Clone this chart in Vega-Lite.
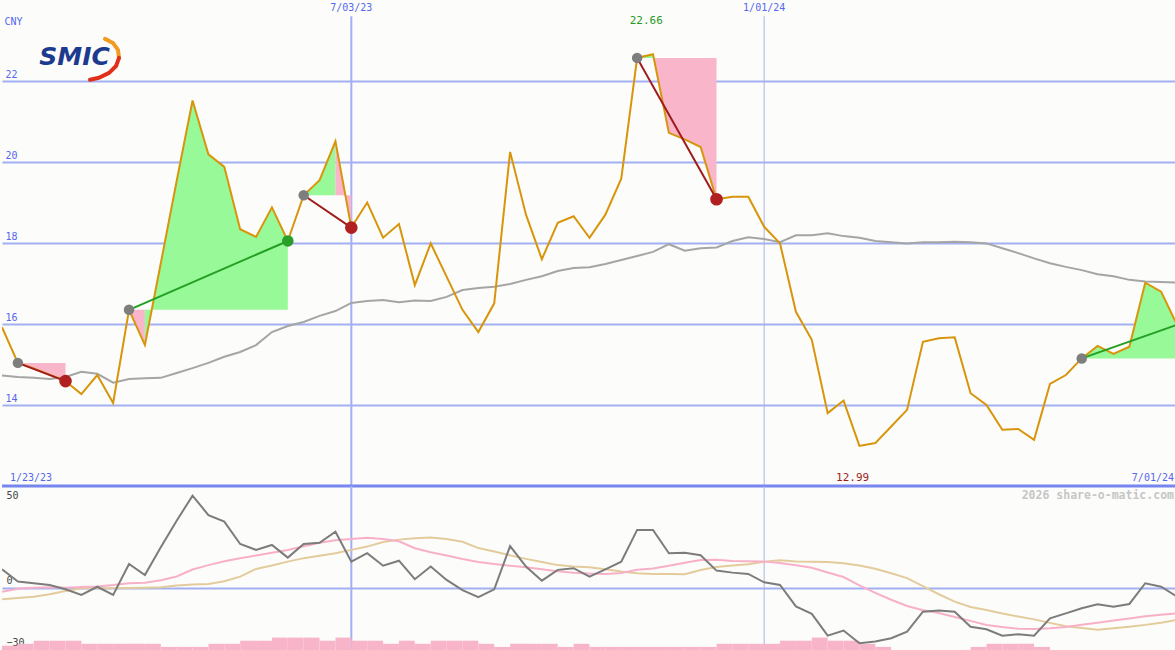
{
  "$schema": "https://vega.github.io/schema/vega-lite/v6.json",
  "background": "#fcfdfa",
  "padding": 0,
  "spacing": 0,
  "bounds": "flush",
  "config": {"view": {"stroke": null}, "font": "DejaVu Sans Mono"},
  "datasets": {
    "w": [
      {"date":"2023-01-30","price":15.92,"ma":14.73,"osc":10.0,"sig":-2.2,"sig2":-6.3},
      {"date":"2023-02-06","price":15.04,"ma":14.69,"osc":3.3,"sig":-0.6,"sig2":-5.6},
      {"date":"2023-02-13","price":14.90,"ma":14.67,"osc":2.4,"sig":-0.1,"sig2":-5.0},
      {"date":"2023-02-20","price":14.75,"ma":14.64,"osc":1.5,"sig":0.2,"sig2":-3.6},
      {"date":"2023-02-27","price":14.59,"ma":14.69,"osc":-0.9,"sig":0.0,"sig2":-1.8},
      {"date":"2023-03-06","price":14.27,"ma":14.82,"osc":-4.0,"sig":0.3,"sig2":-0.3},
      {"date":"2023-03-13","price":14.74,"ma":14.77,"osc":0.5,"sig":0.6,"sig2":-0.3},
      {"date":"2023-03-20","price":14.05,"ma":14.55,"osc":-4.0,"sig":1.4,"sig2":-0.3},
      {"date":"2023-03-27","price":16.35,"ma":14.64,"osc":12.9,"sig":2.4,"sig2":-0.2},
      {"date":"2023-04-03","price":15.48,"ma":14.66,"osc":6.9,"sig":2.7,"sig2":0.0},
      {"date":"2023-04-10","price":17.50,"ma":14.67,"osc":22.0,"sig":4.1,"sig2":0.2},
      {"date":"2023-04-17","price":19.53,"ma":14.79,"osc":36.5,"sig":6.1,"sig2":1.2},
      {"date":"2023-04-24","price":21.52,"ma":14.91,"osc":50.2,"sig":9.9,"sig2":1.7},
      {"date":"2023-05-01","price":20.19,"ma":15.04,"osc":39.6,"sig":12.3,"sig2":2.0},
      {"date":"2023-05-08","price":19.88,"ma":15.19,"osc":36.0,"sig":14.4,"sig2":3.5},
      {"date":"2023-05-15","price":18.34,"ma":15.31,"osc":23.8,"sig":16.0,"sig2":6.0},
      {"date":"2023-05-22","price":18.15,"ma":15.48,"osc":20.6,"sig":17.5,"sig2":10.2},
      {"date":"2023-05-29","price":18.88,"ma":15.80,"osc":23.3,"sig":19.0,"sig2":12.1},
      {"date":"2023-06-05","price":18.05,"ma":15.95,"osc":16.4,"sig":20.5,"sig2":14.2},
      {"date":"2023-06-12","price":19.18,"ma":16.05,"osc":23.8,"sig":22.6,"sig2":16.1},
      {"date":"2023-06-19","price":19.55,"ma":16.20,"osc":24.5,"sig":24.5,"sig2":17.4},
      {"date":"2023-06-26","price":20.51,"ma":16.32,"osc":30.5,"sig":25.8,"sig2":18.8},
      {"date":"2023-07-03","price":18.38,"ma":16.52,"osc":14.2,"sig":26.5,"sig2":20.6},
      {"date":"2023-07-10","price":19.00,"ma":16.57,"osc":18.8,"sig":27.2,"sig2":22.4},
      {"date":"2023-07-17","price":18.13,"ma":16.59,"osc":12.0,"sig":26.6,"sig2":24.9},
      {"date":"2023-07-24","price":18.47,"ma":16.54,"osc":14.7,"sig":25.3,"sig2":26.2},
      {"date":"2023-07-31","price":16.96,"ma":16.58,"osc":4.6,"sig":21.5,"sig2":26.9},
      {"date":"2023-08-07","price":17.99,"ma":16.57,"osc":11.5,"sig":19.3,"sig2":27.3},
      {"date":"2023-08-14","price":17.17,"ma":16.67,"osc":4.2,"sig":17.5,"sig2":26.5},
      {"date":"2023-08-21","price":16.35,"ma":16.84,"osc":-1.3,"sig":15.6,"sig2":25.0},
      {"date":"2023-08-28","price":15.80,"ma":16.89,"osc":-5.2,"sig":14.0,"sig2":21.6},
      {"date":"2023-09-04","price":16.51,"ma":16.92,"osc":-0.9,"sig":12.9,"sig2":19.7},
      {"date":"2023-09-11","price":20.25,"ma":16.99,"osc":22.7,"sig":12.0,"sig2":17.6},
      {"date":"2023-09-18","price":18.70,"ma":17.09,"osc":11.5,"sig":11.1,"sig2":15.7},
      {"date":"2023-09-25","price":17.60,"ma":17.18,"osc":3.8,"sig":10.1,"sig2":14.0},
      {"date":"2023-10-02","price":18.50,"ma":17.31,"osc":9.7,"sig":8.9,"sig2":12.3},
      {"date":"2023-10-09","price":18.66,"ma":17.38,"osc":10.6,"sig":8.2,"sig2":11.6},
      {"date":"2023-10-16","price":18.13,"ma":17.40,"osc":6.0,"sig":7.7,"sig2":11.1},
      {"date":"2023-10-23","price":18.70,"ma":17.48,"osc":10.0,"sig":7.4,"sig2":10.0},
      {"date":"2023-10-30","price":19.59,"ma":17.58,"osc":14.2,"sig":8.0,"sig2":8.8},
      {"date":"2023-11-06","price":22.57,"ma":17.68,"osc":31.5,"sig":9.8,"sig2":7.8},
      {"date":"2023-11-13","price":22.66,"ma":17.78,"osc":31.5,"sig":10.5,"sig2":7.5},
      {"date":"2023-11-20","price":20.72,"ma":17.97,"osc":18.8,"sig":11.9,"sig2":7.4},
      {"date":"2023-11-27","price":20.56,"ma":17.81,"osc":19.1,"sig":13.6,"sig2":7.3},
      {"date":"2023-12-04","price":20.37,"ma":17.87,"osc":17.7,"sig":15.1,"sig2":9.6},
      {"date":"2023-12-11","price":19.08,"ma":17.89,"osc":9.3,"sig":15.2,"sig2":11.3},
      {"date":"2023-12-18","price":19.14,"ma":18.05,"osc":8.2,"sig":14.6,"sig2":12.1},
      {"date":"2023-12-25","price":19.14,"ma":18.14,"osc":7.5,"sig":14.4,"sig2":12.8},
      {"date":"2024-01-01","price":18.40,"ma":18.10,"osc":2.9,"sig":14.2,"sig2":14.2},
      {"date":"2024-01-08","price":17.99,"ma":18.02,"osc":1.5,"sig":13.4,"sig2":15.0},
      {"date":"2024-01-15","price":16.30,"ma":18.19,"osc":-10.2,"sig":12.2,"sig2":14.3},
      {"date":"2024-01-22","price":15.61,"ma":18.19,"osc":-14.3,"sig":10.9,"sig2":14.1},
      {"date":"2024-01-29","price":13.80,"ma":18.24,"osc":-26.2,"sig":8.3,"sig2":14.0},
      {"date":"2024-02-05","price":14.11,"ma":18.17,"osc":-23.4,"sig":5.8,"sig2":13.3},
      {"date":"2024-02-12","price":12.99,"ma":18.13,"osc":-30.3,"sig":1.2,"sig2":12.1},
      {"date":"2024-02-19","price":13.06,"ma":18.05,"osc":-29.4,"sig":-2.8,"sig2":10.3},
      {"date":"2024-02-26","price":13.47,"ma":18.02,"osc":-27.6,"sig":-6.6,"sig2":7.9},
      {"date":"2024-03-04","price":13.88,"ma":17.99,"osc":-24.0,"sig":-10.0,"sig2":5.2},
      {"date":"2024-03-11","price":15.56,"ma":18.02,"osc":-13.1,"sig":-12.3,"sig2":0.8},
      {"date":"2024-03-18","price":15.65,"ma":18.02,"osc":-12.5,"sig":-13.8,"sig2":-3.6},
      {"date":"2024-03-25","price":15.67,"ma":18.03,"osc":-13.1,"sig":-16.0,"sig2":-7.6},
      {"date":"2024-04-01","price":14.29,"ma":18.02,"osc":-21.3,"sig":-18.1,"sig2":-10.5},
      {"date":"2024-04-08","price":14.00,"ma":17.99,"osc":-22.7,"sig":-20.4,"sig2":-12.2},
      {"date":"2024-04-15","price":13.39,"ma":17.87,"osc":-26.2,"sig":-21.5,"sig2":-14.1},
      {"date":"2024-04-22","price":13.41,"ma":17.75,"osc":-25.4,"sig":-22.4,"sig2":-15.7},
      {"date":"2024-04-29","price":13.14,"ma":17.62,"osc":-26.2,"sig":-22.5,"sig2":-17.3},
      {"date":"2024-05-06","price":14.52,"ma":17.50,"osc":-16.7,"sig":-22.1,"sig2":-19.2},
      {"date":"2024-05-13","price":14.74,"ma":17.41,"osc":-14.0,"sig":-21.4,"sig2":-21.0},
      {"date":"2024-05-20","price":15.15,"ma":17.33,"osc":-11.2,"sig":-20.2,"sig2":-22.0},
      {"date":"2024-05-27","price":15.46,"ma":17.23,"osc":-9.1,"sig":-19.1,"sig2":-23.0},
      {"date":"2024-06-03","price":15.26,"ma":17.18,"osc":-10.4,"sig":-17.9,"sig2":-22.2},
      {"date":"2024-06-10","price":15.44,"ma":17.09,"osc":-8.9,"sig":-16.8,"sig2":-21.3},
      {"date":"2024-06-17","price":17.02,"ma":17.05,"osc":2.4,"sig":-15.6,"sig2":-20.3},
      {"date":"2024-06-24","price":16.80,"ma":17.04,"osc":0.5,"sig":-14.8,"sig2":-19.1},
      {"date":"2024-07-01","price":15.98,"ma":17.02,"osc":-4.9,"sig":-14.0,"sig2":-17.6}
    ],
    "vol": [
      {"date":"2023-01-30","end":"2023-02-06","vol":1.4},
      {"date":"2023-02-06","end":"2023-02-13","vol":2},
      {"date":"2023-02-13","end":"2023-02-20","vol":3},
      {"date":"2023-02-20","end":"2023-02-27","vol":3},
      {"date":"2023-02-27","end":"2023-03-06","vol":3},
      {"date":"2023-03-06","end":"2023-03-13","vol":2},
      {"date":"2023-03-13","end":"2023-03-20","vol":2},
      {"date":"2023-03-20","end":"2023-03-27","vol":2},
      {"date":"2023-03-27","end":"2023-04-03","vol":2},
      {"date":"2023-04-03","end":"2023-04-10","vol":2},
      {"date":"2023-04-10","end":"2023-04-17","vol":1},
      {"date":"2023-04-17","end":"2023-04-24","vol":1},
      {"date":"2023-04-24","end":"2023-05-01","vol":1},
      {"date":"2023-05-01","end":"2023-05-08","vol":2},
      {"date":"2023-05-08","end":"2023-05-15","vol":2},
      {"date":"2023-05-15","end":"2023-05-22","vol":3},
      {"date":"2023-05-22","end":"2023-05-29","vol":3},
      {"date":"2023-05-29","end":"2023-06-05","vol":4},
      {"date":"2023-06-05","end":"2023-06-12","vol":4},
      {"date":"2023-06-12","end":"2023-06-19","vol":4},
      {"date":"2023-06-19","end":"2023-06-26","vol":3},
      {"date":"2023-06-26","end":"2023-07-03","vol":4},
      {"date":"2023-07-03","end":"2023-07-10","vol":3},
      {"date":"2023-07-10","end":"2023-07-17","vol":3},
      {"date":"2023-07-17","end":"2023-07-24","vol":2},
      {"date":"2023-07-24","end":"2023-07-31","vol":3},
      {"date":"2023-07-31","end":"2023-08-07","vol":2},
      {"date":"2023-08-07","end":"2023-08-14","vol":3},
      {"date":"2023-08-14","end":"2023-08-21","vol":3},
      {"date":"2023-08-21","end":"2023-08-28","vol":3},
      {"date":"2023-08-28","end":"2023-09-04","vol":2},
      {"date":"2023-09-04","end":"2023-09-11","vol":1},
      {"date":"2023-09-11","end":"2023-09-18","vol":2},
      {"date":"2023-09-18","end":"2023-09-25","vol":2},
      {"date":"2023-09-25","end":"2023-10-02","vol":2},
      {"date":"2023-10-02","end":"2023-10-09","vol":1},
      {"date":"2023-10-09","end":"2023-10-16","vol":2},
      {"date":"2023-10-16","end":"2023-10-23","vol":1},
      {"date":"2023-10-23","end":"2023-10-30","vol":1},
      {"date":"2023-10-30","end":"2023-11-06","vol":1},
      {"date":"2023-11-06","end":"2023-11-13","vol":1},
      {"date":"2023-11-13","end":"2023-11-20","vol":1},
      {"date":"2023-11-20","end":"2023-11-27","vol":1},
      {"date":"2023-11-27","end":"2023-12-04","vol":1},
      {"date":"2023-12-04","end":"2023-12-11","vol":1},
      {"date":"2023-12-11","end":"2023-12-18","vol":2},
      {"date":"2023-12-18","end":"2023-12-25","vol":2},
      {"date":"2023-12-25","end":"2024-01-01","vol":2},
      {"date":"2024-01-01","end":"2024-01-08","vol":2},
      {"date":"2024-01-08","end":"2024-01-15","vol":3},
      {"date":"2024-01-15","end":"2024-01-22","vol":3},
      {"date":"2024-01-22","end":"2024-01-29","vol":4},
      {"date":"2024-01-29","end":"2024-02-05","vol":3},
      {"date":"2024-02-05","end":"2024-02-12","vol":3},
      {"date":"2024-02-12","end":"2024-02-19","vol":2},
      {"date":"2024-02-19","end":"2024-02-26","vol":1},
      {"date":"2024-04-01","end":"2024-04-08","vol":1},
      {"date":"2024-04-08","end":"2024-04-15","vol":2},
      {"date":"2024-04-15","end":"2024-04-22","vol":2},
      {"date":"2024-04-22","end":"2024-04-29","vol":2},
      {"date":"2024-04-29","end":"2024-05-06","vol":1}
    ],
    "fill": [
      {"grp":"g1","kind":"loss","date":"2023-02-06","price":15.04,"entry":15.04},
      {"grp":"g1","kind":"loss","date":"2023-02-13","price":14.90,"entry":15.04},
      {"grp":"g1","kind":"loss","date":"2023-02-20","price":14.75,"entry":15.04},
      {"grp":"g1","kind":"loss","date":"2023-02-27","price":14.59,"entry":15.04},
      {"grp":"g2","kind":"loss","date":"2023-03-27","price":16.35,"entry":16.35},
      {"grp":"g2","kind":"loss","date":"2023-04-03","price":15.48,"entry":16.35},
      {"grp":"g3","kind":"gain","date":"2023-04-03","price":15.48,"entry":16.35},
      {"grp":"g3","kind":"gain","date":"2023-04-10","price":17.50,"entry":16.35},
      {"grp":"g3","kind":"gain","date":"2023-04-17","price":19.53,"entry":16.35},
      {"grp":"g3","kind":"gain","date":"2023-04-24","price":21.52,"entry":16.35},
      {"grp":"g3","kind":"gain","date":"2023-05-01","price":20.19,"entry":16.35},
      {"grp":"g3","kind":"gain","date":"2023-05-08","price":19.88,"entry":16.35},
      {"grp":"g3","kind":"gain","date":"2023-05-15","price":18.34,"entry":16.35},
      {"grp":"g3","kind":"gain","date":"2023-05-22","price":18.15,"entry":16.35},
      {"grp":"g3","kind":"gain","date":"2023-05-29","price":18.88,"entry":16.35},
      {"grp":"g3","kind":"gain","date":"2023-06-05","price":18.05,"entry":16.35},
      {"grp":"g4","kind":"gain","date":"2023-06-12","price":19.18,"entry":19.18},
      {"grp":"g4","kind":"gain","date":"2023-06-19","price":19.55,"entry":19.18},
      {"grp":"g4","kind":"gain","date":"2023-06-26","price":20.51,"entry":19.18},
      {"grp":"g5","kind":"loss","date":"2023-06-26","price":20.51,"entry":19.18},
      {"grp":"g5","kind":"loss","date":"2023-07-03","price":18.38,"entry":19.18},
      {"grp":"g6","kind":"gain","date":"2023-11-06","price":22.57,"entry":22.57},
      {"grp":"g6","kind":"gain","date":"2023-11-13","price":22.66,"entry":22.57},
      {"grp":"g7","kind":"loss","date":"2023-11-13","price":22.66,"entry":22.57},
      {"grp":"g7","kind":"loss","date":"2023-11-20","price":20.72,"entry":22.57},
      {"grp":"g7","kind":"loss","date":"2023-11-27","price":20.56,"entry":22.57},
      {"grp":"g7","kind":"loss","date":"2023-12-04","price":20.37,"entry":22.57},
      {"grp":"g7","kind":"loss","date":"2023-12-11","price":19.08,"entry":22.57},
      {"grp":"g8","kind":"gain","date":"2024-05-20","price":15.15,"entry":15.15},
      {"grp":"g8","kind":"gain","date":"2024-05-27","price":15.46,"entry":15.15},
      {"grp":"g8","kind":"gain","date":"2024-06-03","price":15.26,"entry":15.15},
      {"grp":"g8","kind":"gain","date":"2024-06-10","price":15.44,"entry":15.15},
      {"grp":"g8","kind":"gain","date":"2024-06-17","price":17.02,"entry":15.15},
      {"grp":"g8","kind":"gain","date":"2024-06-24","price":16.80,"entry":15.15},
      {"grp":"g8","kind":"gain","date":"2024-07-01","price":15.98,"entry":15.15}
    ],
    "trades": [
      {"tid":"t1","res":"loss","date":"2023-02-06","price":15.04},
      {"tid":"t1","res":"loss","date":"2023-02-27","price":14.59},
      {"tid":"t2","res":"gain","date":"2023-03-27","price":16.35},
      {"tid":"t2","res":"gain","date":"2023-06-05","price":18.05},
      {"tid":"t3","res":"loss","date":"2023-06-12","price":19.18},
      {"tid":"t3","res":"loss","date":"2023-07-03","price":18.38},
      {"tid":"t4","res":"loss","date":"2023-11-06","price":22.57},
      {"tid":"t4","res":"loss","date":"2023-12-11","price":19.08},
      {"tid":"t5","res":"gain","date":"2024-05-20","price":15.15},
      {"tid":"t5","res":"gain","date":"2024-07-01","price":15.98}
    ],
    "marks": [
      {"kind":"entry","date":"2023-02-06","price":15.04},
      {"kind":"loss","date":"2023-02-27","price":14.59},
      {"kind":"entry","date":"2023-03-27","price":16.35},
      {"kind":"gain","date":"2023-06-05","price":18.05},
      {"kind":"entry","date":"2023-06-12","price":19.18},
      {"kind":"loss","date":"2023-07-03","price":18.38},
      {"kind":"entry","date":"2023-11-06","price":22.57},
      {"kind":"loss","date":"2023-12-11","price":19.08},
      {"kind":"entry","date":"2024-05-20","price":15.15}
    ],
    "swoosh": [
      {"k":1,"part":"top","date":"2023-03-16T10:00:00Z","v":23.04},
      {"k":2,"part":"top","date":"2023-03-19T22:00:00Z","v":22.94},
      {"k":3,"part":"top","date":"2023-03-22T03:00:00Z","v":22.77},
      {"k":4,"part":"top","date":"2023-03-22T14:00:00Z","v":22.57},
      {"k":4,"part":"bottom","date":"2023-03-22T14:00:00Z","v":22.57},
      {"k":5,"part":"bottom","date":"2023-03-21T07:00:00Z","v":22.37},
      {"k":6,"part":"bottom","date":"2023-03-18T05:00:00Z","v":22.20},
      {"k":7,"part":"bottom","date":"2023-03-13T19:00:00Z","v":22.08},
      {"k":8,"part":"bottom","date":"2023-03-09T19:00:00Z","v":22.03}
    ]
  },
  "vconcat": [
    {
      "width": 1175,
      "height": 486,
      "encoding": {
        "x": {"field": "date", "type": "temporal", "axis": null,
          "scale": {"type": "utc", "nice": false,
            "domain": [{"year": 2023, "month": 1, "date": 30, "utc": true}, {"year": 2024, "month": 7, "date": 1, "utc": true}]}}
      },
      "resolve": {"scale": {"color": "independent", "size": "independent"}, "axis": {"y": "independent"}},
      "layer": [
        {
          "data": {"values": [{"date": "2023-07-03"}]},
          "mark": {"type": "rule", "color": "#a2b0f2", "strokeWidth": 2},
          "encoding": {"y": {"datum": 23.6, "type": "quantitative", "scale": {"domain": [12, 24]}, "axis": null}, "y2": {"datum": 12}}
        },
        {
          "data": {"values": [{"date": "2024-01-01"}]},
          "mark": {"type": "rule", "color": "#aab4e2", "strokeWidth": 1},
          "encoding": {"y": {"datum": 23.6, "type": "quantitative", "scale": {"domain": [12, 24]}, "axis": null}, "y2": {"datum": 12}}
        },
        {
          "data": {"name": "fill"},
          "mark": {"type": "area", "interpolate": "linear", "clip": true},
          "encoding": {
            "y": {"field": "price", "type": "quantitative", "stack": null, "scale": {"domain": [12, 24]}, "axis": null},
            "y2": {"field": "entry"},
            "detail": {"field": "grp"},
            "color": {"field": "kind", "type": "nominal", "legend": null,
              "scale": {"domain": ["gain", "loss"], "range": ["#98f998", "#f9b5ca"]}}
          }
        },
        {
          "data": {"name": "w"},
          "mark": {"type": "line", "color": "#a5a5a5", "strokeWidth": 2, "clip": true},
          "encoding": {"y": {"field": "ma", "type": "quantitative", "scale": {"domain": [12, 24]}, "axis": null}}
        },
        {
          "data": {"name": "w"},
          "mark": {"type": "line", "color": "#d8950c", "strokeWidth": 2, "clip": true},
          "encoding": {
            "y": {"field": "price", "type": "quantitative", "scale": {"domain": [12, 24]},
              "axis": {"values": [14, 16, 18, 20, 22], "grid": true, "gridColor": "#a2b0f2", "gridWidth": 2,
                "domain": false, "ticks": false, "tickSize": 0,
                "labelAlign": "left", "labelBaseline": "bottom", "labelPadding": -3, "labelOffset": -2,
                "labelColor": "#5666ee", "labelFont": "DejaVu Sans Mono", "labelFontSize": 10,
                "labelBound": false, "labelFlush": false, "labelOverlap": false,
                "title": "CNY", "titleAngle": 0, "titleAlign": "left", "titleBaseline": "middle",
                "titleX": 2, "titleY": 21, "titleFont": "DejaVu Sans Mono", "titleFontSize": 10,
                "titleFontWeight": "normal", "titleColor": "#5666ee"}}
          }
        },
        {
          "data": {"values": [{"date": "2023-01-30"}]},
          "mark": {"type": "rule", "color": "#7686ee", "strokeWidth": 3},
          "encoding": {"x": {"datum": {"year": 2023, "month": 1, "date": 30, "utc": true}, "type": "temporal"},
            "x2": {"datum": {"year": 2024, "month": 7, "date": 1, "utc": true}},
            "y": {"datum": 12, "type": "quantitative", "scale": {"domain": [12, 24]}, "axis": null}}
        },
        {
          "data": {"name": "trades"},
          "mark": {"type": "line", "strokeWidth": 2},
          "encoding": {
            "y": {"field": "price", "type": "quantitative", "scale": {"domain": [12, 24]}, "axis": null},
            "detail": {"field": "tid"},
            "color": {"field": "res", "type": "nominal", "legend": null,
              "scale": {"domain": ["gain", "loss"], "range": ["#22a022", "#a01c1c"]}}
          }
        },
        {
          "data": {"name": "marks"},
          "mark": {"type": "point", "filled": true, "opacity": 1},
          "encoding": {
            "y": {"field": "price", "type": "quantitative", "scale": {"domain": [12, 24]}, "axis": null},
            "color": {"field": "kind", "type": "nominal", "legend": null,
              "scale": {"domain": ["entry", "gain", "loss"], "range": ["#7e7e7e", "#2a9e2a", "#b02020"]}},
            "size": {"field": "kind", "type": "nominal", "legend": null,
              "scale": {"domain": ["entry", "gain", "loss"], "range": [110, 160, 160]}}
          }
        },
        {
          "data": {"values": [{"date": "2023-07-03", "label": "7/03/23"}, {"date": "2024-01-01", "label": "1/01/24"}]},
          "mark": {"type": "text", "align": "center", "baseline": "middle", "font": "DejaVu Sans Mono", "fontSize": 10, "color": "#5666ee"},
          "encoding": {"y": {"datum": 23.8, "type": "quantitative", "scale": {"domain": [12, 24]}, "axis": null}, "text": {"field": "label"}}
        },
        {
          "data": {"values": [{"date": "2023-02-02T12:00:00Z", "label": "1/23/23"}]},
          "mark": {"type": "text", "align": "left", "baseline": "middle", "font": "DejaVu Sans Mono", "fontSize": 10, "color": "#5666ee"},
          "encoding": {"y": {"datum": 12.2, "type": "quantitative", "scale": {"domain": [12, 24]}, "axis": null}, "text": {"field": "label"}}
        },
        {
          "data": {"values": [{"date": "2024-07-01", "label": "7/01/24"}]},
          "mark": {"type": "text", "align": "right", "baseline": "middle", "dx": -3, "font": "DejaVu Sans Mono", "fontSize": 10, "color": "#5666ee"},
          "encoding": {"y": {"datum": 12.2, "type": "quantitative", "scale": {"domain": [12, 24]}, "axis": null}, "text": {"field": "label"}}
        },
        {
          "data": {"values": [{"date": "2023-11-10", "label": "22.66"}]},
          "mark": {"type": "text", "align": "center", "baseline": "middle", "font": "DejaVu Sans Mono", "fontSize": 11, "color": "#1f9a1f"},
          "encoding": {"y": {"datum": 23.49, "type": "quantitative", "scale": {"domain": [12, 24]}, "axis": null}, "text": {"field": "label"}}
        },
        {
          "data": {"values": [{"date": "2024-02-09", "label": "12.99"}]},
          "mark": {"type": "text", "align": "center", "baseline": "middle", "font": "DejaVu Sans Mono", "fontSize": 11, "color": "#a01c1c"},
          "encoding": {"y": {"datum": 12.2, "type": "quantitative", "scale": {"domain": [12, 24]}, "axis": null}, "text": {"field": "label"}}
        },
        {
          "data": {"name": "swoosh"},
          "mark": {"type": "line", "strokeWidth": 4, "strokeCap": "round", "strokeJoin": "round"},
          "encoding": {
            "y": {"field": "v", "type": "quantitative", "scale": {"domain": [12, 24]}, "axis": null},
            "order": {"field": "k"},
            "detail": {"field": "part"},
            "color": {"field": "part", "type": "nominal", "legend": null,
              "scale": {"domain": ["top", "bottom"], "range": ["#f29a22", "#e0301c"]}}
          }
        },
        {
          "data": {"values": [{"date": "2023-03-03", "label": "SMIC"}]},
          "mark": {"type": "text", "align": "center", "baseline": "alphabetic", "font": "DejaVu Sans", "fontSize": 25, "fontWeight": "bold", "fontStyle": "italic", "color": "#1c3a8e"},
          "encoding": {"y": {"datum": 22.4, "type": "quantitative", "scale": {"domain": [12, 24]}, "axis": null}, "text": {"field": "label"}}
        }
      ]
    },
    {
      "width": 1175,
      "height": 164,
      "encoding": {
        "x": {"field": "date", "type": "temporal", "axis": null,
          "scale": {"type": "utc", "nice": false,
            "domain": [{"year": 2023, "month": 1, "date": 30, "utc": true}, {"year": 2024, "month": 7, "date": 1, "utc": true}]}}
      },
      "resolve": {"scale": {"y": "independent"}},
      "layer": [
        {
          "data": {"values": [{"date": "2023-07-03"}]},
          "mark": {"type": "rule", "color": "#a2b0f2", "strokeWidth": 2},
          "encoding": {}
        },
        {
          "data": {"values": [{"date": "2024-01-01"}]},
          "mark": {"type": "rule", "color": "#aab4e2", "strokeWidth": 1},
          "encoding": {}
        },
        {
          "data": {"name": "vol"},
          "mark": {"type": "rect", "color": "#f8b4c8"},
          "encoding": {
            "x2": {"field": "end"},
            "y": {"field": "vol", "type": "quantitative", "scale": {"domain": [0, 52.9]}, "axis": null},
            "y2": {"datum": 0}
          }
        },
        {
          "data": {"name": "w"},
          "mark": {"type": "line", "color": "#e3cb9c", "strokeWidth": 2, "clip": true},
          "encoding": {"y": {"field": "sig2", "type": "quantitative", "scale": {"domain": [-34, 55.45]}, "axis": null}}
        },
        {
          "data": {"name": "w"},
          "mark": {"type": "line", "color": "#f8b0c8", "strokeWidth": 2, "clip": true},
          "encoding": {"y": {"field": "sig", "type": "quantitative", "scale": {"domain": [-34, 55.45]}, "axis": null}}
        },
        {
          "data": {"name": "w"},
          "mark": {"type": "line", "color": "#7c7c7c", "strokeWidth": 2, "clip": true},
          "encoding": {
            "y": {"field": "osc", "type": "quantitative", "scale": {"domain": [-34, 55.45]},
              "axis": {"values": [-30, 0, 50], "grid": true, "gridColor": "#a2b0f2", "gridWidth": 2,
                "gridOpacity": {"condition": {"test": "datum.value === 0", "value": 1}, "value": 0},
                "domain": false, "ticks": false, "tickSize": 0,
                "labelAlign": "left",
                "labelBaseline": {"condition": {"test": "datum.value === 0", "value": "bottom"}, "value": "middle"},
                "labelOffset": {"condition": {"test": "datum.value === 0", "value": -2}, "value": 0},
                "labelPadding": -4, "labelColor": "#444444", "labelFont": "DejaVu Sans Mono", "labelFontSize": 10,
                "labelBound": false, "labelFlush": false, "labelOverlap": false, "title": null}}
          }
        },
        {
          "data": {"values": [{"date": "2024-07-01", "label": "2026 share-o-matic.com"}]},
          "mark": {"type": "text", "align": "right", "baseline": "middle", "dx": -3, "font": "DejaVu Sans Mono", "fontSize": 11.5, "fontWeight": "bold", "color": "#c6c6c6"},
          "encoding": {"y": {"datum": 50, "type": "quantitative", "scale": {"domain": [-34, 55.45]}, "axis": null}, "text": {"field": "label"}}
        }
      ]
    }
  ]
}
